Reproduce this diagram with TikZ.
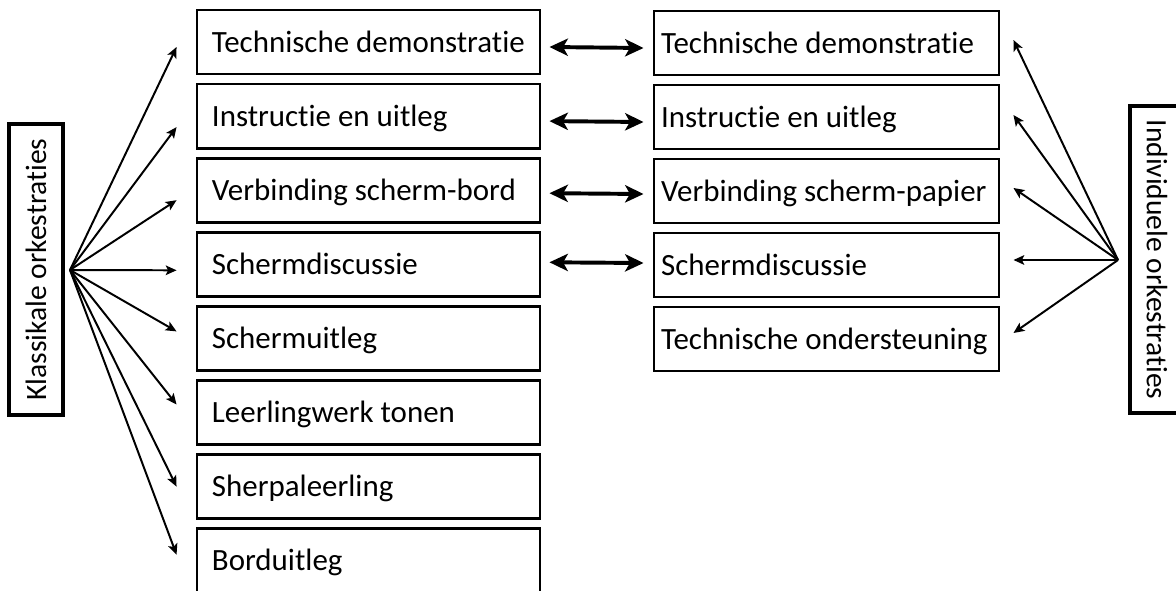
\documentclass[tikz,border=0pt]{standalone}
\usepackage{fontspec}
\setmainfont{Carlito}[Ligatures={NoCommon}]
\usetikzlibrary{arrows.meta}

\begin{document}
\begin{tikzpicture}[x=0.025cm,y=-0.025cm,
  blok/.style={draw,line width=2pt,minimum height=1.6cm,inner xsep=0.375cm,
    text height=14.3pt,text depth=0pt,font=\fontsize{22}{24}\selectfont},
  rblok/.style={blok,inner xsep=0.18cm},
  staand/.style={draw,line width=2.4pt,minimum height=1.35cm,inner sep=0pt,
    font=\fontsize{21}{24}\selectfont},
  pijl/.style={line width=1.4pt,-{Stealth[length=2.7mm,width=2.4mm,inset=0.6mm]}},
  dubbel/.style={line width=2.8pt,{Stealth[length=4.6mm,width=4.3mm,inset=1.2mm]}-{Stealth[length=4.6mm,width=4.3mm,inset=1.2mm]}}]
  \useasboundingbox (0,0) rectangle (1176,591);
  % vertical labels
  \node[staand,rotate=90,minimum width=7.275cm] (klas) at (36,269.5) {Klassikale orkestraties};
  \node[staand,rotate=-90,minimum width=7.675cm] (indiv) at (1157,259.5) {Individuele orkestraties};
  \coordinate (kbron) at (70,270);
  \coordinate (ibron) at (1118,260);
  % left column
  \foreach \tekst [count=\i] in {Technische demonstratie,Instructie en uitleg,Verbinding scherm-bord,
    Schermdiscussie,Schermuitleg,Leerlingwerk tonen,Sherpaleerling,Borduitleg}{
    \node[blok] (l\i) at (368.5,{42+74.1*(\i-1)}) {\makebox[7.825cm][l]{\tekst}};  }
  % right column
  \foreach \tekst [count=\i] in {Technische demonstratie,Instructie en uitleg,Verbinding scherm-papier,
    Schermdiscussie,Technische ondersteuning}{
    \node[rblok] (r\i) at (826.5,{43+74*(\i-1)}) {\makebox[8.265cm][l]{\tekst}};  }
  % fans
  \foreach \i/\dy in {1/5,2/11,3/10,4/6,5/-7,6/-8,7/0,8/-6}
    \draw[pijl] (kbron) -- ([shift={(-19,\dy)}]l\i.west);
  \foreach \i/\dy in {1/-3,2/-2,3/-3,4/-5,5/-6}
    \draw[pijl] (ibron) -- ([shift={(13,\dy)}]r\i.east);
  % pairs
  \foreach \i/\dy in {1/5,2/5,3/3,4/-2}
    \draw[dubbel] ([shift={(8,\dy)}]l\i.east) -- ([shift={(-9,\dy)}]r\i.west);
\end{tikzpicture}
\end{document}
